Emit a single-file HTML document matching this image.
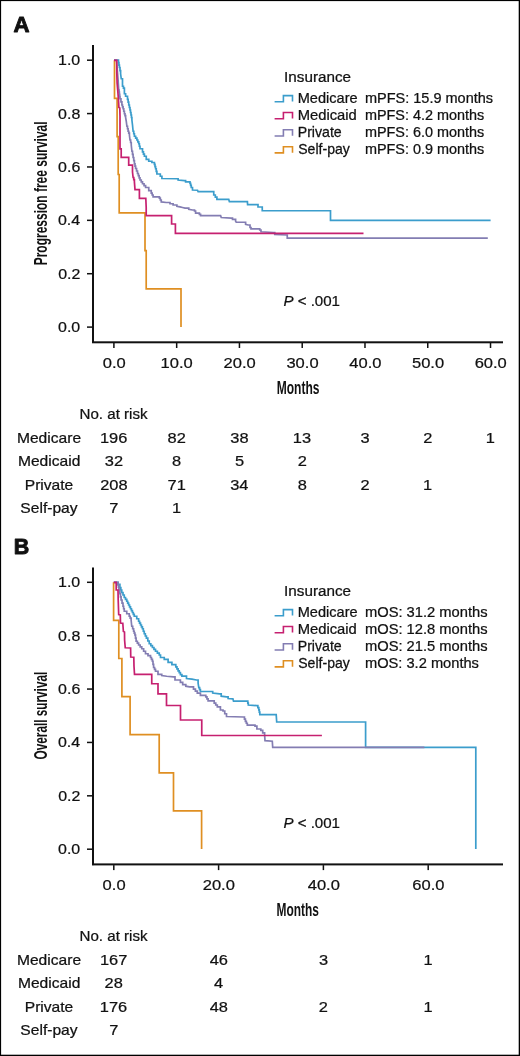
<!DOCTYPE html>
<html><head><meta charset="utf-8"><style>
html,body{margin:0;padding:0;background:#fff;}
body{width:520px;height:1056px;overflow:hidden;}
svg{display:block;font-family:"Liberation Sans",sans-serif;will-change:transform;}
</style></head><body>
<svg width="520" height="1056" viewBox="0 0 520 1056">
<rect x="0" y="0" width="520" height="1056" fill="#fff"/>
<text transform="translate(13.49,32.05) scale(1.0280,1)" font-size="21.6" font-weight="bold" font-style="normal" fill="#111"  stroke="#111" stroke-width="0.875" stroke-linejoin="round">A</text>
<rect x="92" y="45" width="2" height="298.00" fill="#111"/>
<rect x="92" y="341.30" width="411" height="2" fill="#111"/>
<rect x="87" y="326.35" width="5" height="1.5" fill="#111"/>
<text transform="translate(58.04,332.10) scale(1.0500,1)" font-size="15.2" font-weight="normal" font-style="normal" fill="#111" stroke="#111" stroke-width="0.238">0.0</text>
<rect x="87" y="272.97" width="5" height="1.5" fill="#111"/>
<text transform="translate(58.21,278.72) scale(1.0500,1)" font-size="15.2" font-weight="normal" font-style="normal" fill="#111" stroke="#111" stroke-width="0.238">0.2</text>
<rect x="87" y="219.59" width="5" height="1.5" fill="#111"/>
<text transform="translate(57.88,225.34) scale(1.0500,1)" font-size="15.2" font-weight="normal" font-style="normal" fill="#111" stroke="#111" stroke-width="0.238">0.4</text>
<rect x="87" y="166.21" width="5" height="1.5" fill="#111"/>
<text transform="translate(58.12,171.96) scale(1.0500,1)" font-size="15.2" font-weight="normal" font-style="normal" fill="#111" stroke="#111" stroke-width="0.238">0.6</text>
<rect x="87" y="112.83" width="5" height="1.5" fill="#111"/>
<text transform="translate(58.10,118.58) scale(1.0500,1)" font-size="15.2" font-weight="normal" font-style="normal" fill="#111" stroke="#111" stroke-width="0.238">0.8</text>
<rect x="87" y="59.45" width="5" height="1.5" fill="#111"/>
<text transform="translate(58.04,65.20) scale(1.0500,1)" font-size="15.2" font-weight="normal" font-style="normal" fill="#111" stroke="#111" stroke-width="0.238">1.0</text>
<rect x="113.15" y="343.00" width="1.5" height="5" fill="#111"/>
<text transform="translate(102.72,367.60) scale(1.0800,1)" font-size="15.3" font-weight="normal" font-style="normal" fill="#111" stroke="#111" stroke-width="0.231">0.0</text>
<rect x="175.92" y="343.00" width="1.5" height="5" fill="#111"/>
<text transform="translate(160.59,367.60) scale(1.0800,1)" font-size="15.3" font-weight="normal" font-style="normal" fill="#111" stroke="#111" stroke-width="0.231">10.0</text>
<rect x="238.69" y="343.00" width="1.5" height="5" fill="#111"/>
<text transform="translate(223.57,367.60) scale(1.0800,1)" font-size="15.3" font-weight="normal" font-style="normal" fill="#111" stroke="#111" stroke-width="0.231">20.0</text>
<rect x="301.46" y="343.00" width="1.5" height="5" fill="#111"/>
<text transform="translate(286.44,367.60) scale(1.0800,1)" font-size="15.3" font-weight="normal" font-style="normal" fill="#111" stroke="#111" stroke-width="0.231">30.0</text>
<rect x="364.23" y="343.00" width="1.5" height="5" fill="#111"/>
<text transform="translate(349.33,367.60) scale(1.0800,1)" font-size="15.3" font-weight="normal" font-style="normal" fill="#111" stroke="#111" stroke-width="0.231">40.0</text>
<rect x="427.00" y="343.00" width="1.5" height="5" fill="#111"/>
<text transform="translate(411.96,367.60) scale(1.0800,1)" font-size="15.3" font-weight="normal" font-style="normal" fill="#111" stroke="#111" stroke-width="0.231">50.0</text>
<rect x="489.77" y="343.00" width="1.5" height="5" fill="#111"/>
<text transform="translate(474.64,367.60) scale(1.0800,1)" font-size="15.3" font-weight="normal" font-style="normal" fill="#111" stroke="#111" stroke-width="0.231">60.0</text>
<polyline points="114.00,60.20 118.00,60.20 118.47,60.20 118.47,62.63 118.93,62.63 118.93,65.07 119.40,65.07 119.40,67.50 120.00,67.50 120.00,70.62 120.60,70.62 120.60,73.75 121.25,78.75 122.50,78.75 122.50,80.00 122.50,86.25 123.45,86.25 123.45,88.12 124.40,88.12 124.40,90.00 124.40,93.75 125.60,93.75 125.60,96.25 127.50,96.25 127.50,99.40 128.12,99.40 128.12,102.20 128.75,102.20 128.75,105.00 129.38,105.00 129.38,107.50 130.00,107.50 130.00,110.00 130.50,110.00 130.50,112.50 131.00,112.50 131.00,115.00 131.45,115.00 131.45,117.50 131.90,117.50 131.90,120.00 132.50,125.00 133.10,131.25 133.75,131.25 133.75,133.75 134.40,133.75 134.40,136.25 135.65,136.25 135.65,138.12 136.90,138.12 136.90,140.00 137.82,140.00 137.82,141.88 138.75,141.88 138.75,143.75 139.38,143.75 139.38,146.25 140.00,146.25 140.00,148.75 142.50,148.75 142.50,151.90 143.45,151.90 143.45,154.07 144.40,154.07 144.40,156.25 146.25,156.25 146.25,159.40 148.75,159.40 148.75,161.25 151.90,161.25 151.90,162.50 154.40,162.50 154.40,164.40 155.00,164.40 155.00,166.57 155.60,166.57 155.60,168.75 156.25,168.75 156.25,171.38 156.90,171.38 156.90,174.00 160.30,174.00 160.30,176.25 161.90,176.25 161.90,178.50 177.00,178.75 178.10,178.75 178.10,180.00 184.40,180.60 185.60,180.60 185.60,181.90 190.00,181.90 190.00,183.30 190.62,183.30 190.62,185.40 191.25,185.40 191.25,187.50 192.50,187.50 192.50,190.00 197.50,190.25 198.10,191.60 211.90,191.60 213.75,191.60 213.75,195.00 215.32,195.00 215.32,197.20 216.90,197.20 216.90,199.40 228.75,199.40 229.40,201.70 247.40,201.70 247.60,204.60 258.00,204.60 258.00,207.00 262.25,207.00 262.25,210.75 330.50,210.75 330.50,220.30 490.60,220.30" fill="none" stroke="#3b9dcc" stroke-width="1.7" stroke-linejoin="miter" stroke-linecap="butt"/>
<polyline points="114.00,60.20 116.50,60.20 117.30,70.00 118.10,80.00 118.75,90.00 119.06,90.00 119.06,92.19 119.38,92.19 119.38,94.38 119.69,94.38 119.69,96.56 120.00,96.56 120.00,98.75 120.95,98.75 120.95,101.88 121.90,101.88 121.90,105.00 122.50,105.00 122.50,106.88 123.10,106.88 123.10,108.75 123.75,108.75 123.75,111.25 124.40,111.25 124.40,113.75 125.00,113.75 125.00,115.62 125.60,115.62 125.60,117.50 126.25,121.25 126.90,126.25 127.50,126.25 127.50,128.75 128.10,128.75 128.10,131.25 128.75,131.25 128.75,133.12 129.40,133.12 129.40,135.00 130.00,140.00 130.62,140.00 130.62,142.50 131.25,142.50 131.25,145.00 131.90,151.25 132.50,151.25 132.50,154.38 133.10,154.38 133.10,157.50 133.75,157.50 133.75,160.62 134.40,160.62 134.40,163.75 135.00,163.75 135.00,166.12 135.60,166.12 135.60,168.50 136.55,168.50 136.55,171.00 137.50,171.00 137.50,173.50 138.33,173.50 138.33,175.67 139.17,175.67 139.17,177.83 140.00,177.83 140.00,180.00 141.25,180.00 141.25,181.88 142.50,181.88 142.50,183.75 144.05,183.75 144.05,185.62 145.60,185.62 145.60,187.50 148.75,187.50 148.75,190.60 151.25,190.60 151.25,193.10 152.18,193.10 152.18,195.00 153.10,195.00 153.10,196.90 159.40,196.90 159.40,198.10 160.32,198.10 160.32,200.00 161.25,200.00 161.25,201.90 166.25,202.50 170.00,202.50 170.00,203.75 173.10,203.75 173.10,205.00 176.90,205.00 176.90,206.25 180.00,206.90 182.50,207.50 185.00,208.10 188.75,208.10 188.75,209.40 192.50,210.00 194.50,210.00 194.50,211.00 195.60,211.00 195.60,213.10 199.40,213.10 199.40,214.40 200.60,214.40 200.60,215.60 220.60,215.60 221.25,217.50 231.25,218.10 232.50,218.10 232.50,219.40 235.60,219.40 235.60,221.25 236.25,222.25 244.40,222.25 245.60,222.25 245.60,224.40 248.10,225.00 250.00,225.00 250.00,227.50 251.00,227.50 251.00,228.90 259.75,228.90 259.75,230.00 261.00,230.00 261.00,231.75 273.50,232.50 274.75,232.50 274.75,234.50 287.25,235.00 287.25,238.20 487.80,238.20" fill="none" stroke="#837db2" stroke-width="1.7" stroke-linejoin="miter" stroke-linecap="butt"/>
<polyline points="114.50,60.20 114.50,98.30 117.10,98.30 117.10,136.70 118.20,136.70 118.20,174.50 119.20,174.50 119.20,212.80 145.00,212.80 145.00,250.60 146.20,250.60 146.20,288.90 181.00,288.90 181.00,327.00" fill="none" stroke="#df8f22" stroke-width="1.7" stroke-linejoin="miter" stroke-linecap="butt"/>
<polyline points="114.00,60.40 116.70,60.40 116.80,73.00 117.10,83.00 117.70,90.00 118.40,98.70 118.90,107.50 119.80,108.00 120.00,116.00 120.00,148.80 121.20,148.80 121.20,157.40 128.70,157.40 128.70,165.10 132.50,165.10 132.50,172.00 133.10,177.50 133.75,177.50 133.75,179.70 134.40,179.70 134.40,181.90 135.00,189.60 139.40,189.60 139.40,198.30 145.80,198.30 146.20,207.50 146.20,215.60 171.60,215.60 171.60,224.00 175.40,224.00 175.40,233.30 363.50,233.30" fill="none" stroke="#c62070" stroke-width="1.7" stroke-linejoin="miter" stroke-linecap="butt"/>
<text transform="translate(13.81,554.35) scale(0.9942,1)" font-size="21.6" font-weight="bold" font-style="normal" fill="#111"  stroke="#111" stroke-width="0.905" stroke-linejoin="round">B</text>
<rect x="92" y="567.5" width="2" height="297.60" fill="#111"/>
<rect x="92" y="863.40" width="411" height="2" fill="#111"/>
<rect x="87" y="848.45" width="5" height="1.5" fill="#111"/>
<text transform="translate(58.04,854.20) scale(1.0500,1)" font-size="15.2" font-weight="normal" font-style="normal" fill="#111" stroke="#111" stroke-width="0.238">0.0</text>
<rect x="87" y="795.07" width="5" height="1.5" fill="#111"/>
<text transform="translate(58.21,800.82) scale(1.0500,1)" font-size="15.2" font-weight="normal" font-style="normal" fill="#111" stroke="#111" stroke-width="0.238">0.2</text>
<rect x="87" y="741.69" width="5" height="1.5" fill="#111"/>
<text transform="translate(57.88,747.44) scale(1.0500,1)" font-size="15.2" font-weight="normal" font-style="normal" fill="#111" stroke="#111" stroke-width="0.238">0.4</text>
<rect x="87" y="688.31" width="5" height="1.5" fill="#111"/>
<text transform="translate(58.12,694.06) scale(1.0500,1)" font-size="15.2" font-weight="normal" font-style="normal" fill="#111" stroke="#111" stroke-width="0.238">0.6</text>
<rect x="87" y="634.93" width="5" height="1.5" fill="#111"/>
<text transform="translate(58.10,640.68) scale(1.0500,1)" font-size="15.2" font-weight="normal" font-style="normal" fill="#111" stroke="#111" stroke-width="0.238">0.8</text>
<rect x="87" y="581.55" width="5" height="1.5" fill="#111"/>
<text transform="translate(58.04,587.30) scale(1.0500,1)" font-size="15.2" font-weight="normal" font-style="normal" fill="#111" stroke="#111" stroke-width="0.238">1.0</text>
<rect x="113.05" y="865.10" width="1.5" height="5" fill="#111"/>
<text transform="translate(102.62,889.70) scale(1.0800,1)" font-size="15.3" font-weight="normal" font-style="normal" fill="#111" stroke="#111" stroke-width="0.231">0.0</text>
<rect x="217.85" y="865.10" width="1.5" height="5" fill="#111"/>
<text transform="translate(202.73,889.70) scale(1.0800,1)" font-size="15.3" font-weight="normal" font-style="normal" fill="#111" stroke="#111" stroke-width="0.231">20.0</text>
<rect x="322.65" y="865.10" width="1.5" height="5" fill="#111"/>
<text transform="translate(307.75,889.70) scale(1.0800,1)" font-size="15.3" font-weight="normal" font-style="normal" fill="#111" stroke="#111" stroke-width="0.231">40.0</text>
<rect x="427.45" y="865.10" width="1.5" height="5" fill="#111"/>
<text transform="translate(412.32,889.70) scale(1.0800,1)" font-size="15.3" font-weight="normal" font-style="normal" fill="#111" stroke="#111" stroke-width="0.231">60.0</text>
<polyline points="113.80,582.30 116.50,582.30 118.00,582.30 118.00,584.40 119.90,584.40 119.90,587.50 120.83,587.50 120.83,590.00 121.75,590.00 121.75,592.50 123.00,592.50 123.00,595.00 124.25,595.00 124.25,597.50 125.50,597.50 125.50,599.38 126.75,599.38 126.75,601.25 127.67,601.25 127.67,603.12 128.60,603.12 128.60,605.00 129.55,605.00 129.55,606.88 130.50,606.88 130.50,608.75 131.45,608.75 131.45,610.62 132.40,610.62 132.40,612.50 133.32,612.50 133.32,614.38 134.25,614.38 134.25,616.25 136.75,616.25 136.75,618.75 138.60,618.75 138.60,621.25 139.55,621.25 139.55,623.12 140.50,623.12 140.50,625.00 141.45,625.00 141.45,626.88 142.40,626.88 142.40,628.75 143.32,628.75 143.32,631.25 144.25,631.25 144.25,633.75 145.32,633.75 145.32,635.98 146.40,635.98 146.40,638.20 147.82,638.20 147.82,640.98 149.25,640.98 149.25,643.75 150.82,643.75 150.82,645.62 152.40,645.62 152.40,647.50 153.95,647.50 153.95,649.38 155.50,649.38 155.50,651.25 157.38,651.25 157.38,653.12 159.25,653.12 159.25,655.00 160.50,655.00 160.50,657.50 164.25,657.50 164.25,659.40 168.10,659.40 168.10,662.30 171.90,662.30 171.90,664.60 175.80,664.60 175.80,666.90 176.95,666.90 176.95,668.85 178.10,668.85 178.10,670.80 179.25,670.80 179.25,672.70 180.40,672.70 180.40,674.60 181.90,674.60 181.90,676.20 186.50,676.20 186.50,678.50 191.90,679.20 196.50,680.00 198.10,680.00 198.10,683.10 198.80,687.70 199.60,687.70 199.60,689.60 200.40,689.60 200.40,691.50 211.20,691.50 212.70,691.50 212.70,693.10 219.60,693.80 221.20,693.80 221.20,696.20 226.50,696.90 228.10,696.90 228.10,698.50 232.90,698.90 233.50,701.20 247.30,701.20 247.80,701.20 247.80,703.10 248.30,703.10 248.30,705.00 256.90,705.60 257.85,705.60 257.85,707.70 258.80,707.70 258.80,709.80 259.30,709.80 259.30,712.20 259.80,712.20 259.80,714.60 276.20,714.60 276.70,722.00 365.60,722.00 365.60,747.30 475.80,747.30 475.80,849.00" fill="none" stroke="#3b9dcc" stroke-width="1.7" stroke-linejoin="miter" stroke-linecap="butt"/>
<polyline points="113.80,582.30 117.00,582.30 118.00,582.30 118.00,585.00 118.47,585.00 118.47,587.19 118.95,587.19 118.95,589.38 119.43,589.38 119.43,591.56 119.90,591.56 119.90,593.75 120.50,593.75 120.50,596.88 121.10,596.88 121.10,600.00 122.05,600.00 122.05,603.12 123.00,603.12 123.00,606.25 123.62,606.25 123.62,608.75 124.25,608.75 124.25,611.25 126.75,611.25 126.75,613.75 129.25,613.75 129.25,616.25 130.18,616.25 130.18,618.12 131.10,618.12 131.10,620.00 131.75,626.25 132.68,626.25 132.68,628.75 133.60,628.75 133.60,631.25 134.25,631.25 134.25,633.12 134.90,633.12 134.90,635.00 135.50,635.00 135.50,638.12 136.10,638.12 136.10,641.25 137.35,641.25 137.35,643.12 138.60,643.12 138.60,645.00 140.18,645.00 140.18,646.88 141.75,646.88 141.75,648.75 143.62,648.75 143.62,651.25 145.50,651.25 145.50,653.75 148.00,653.75 148.00,655.62 150.50,655.62 150.50,657.50 151.45,657.50 151.45,659.38 152.40,659.38 152.40,661.25 153.00,661.25 153.00,664.38 153.60,664.38 153.60,667.50 154.55,667.50 154.55,669.38 155.50,669.38 155.50,671.25 158.00,671.25 158.00,674.40 161.75,674.40 161.75,675.60 166.75,676.25 173.50,676.90 175.00,676.90 175.00,680.00 180.40,680.00 180.40,682.30 182.70,682.30 182.70,684.60 185.80,684.60 185.80,686.20 189.60,686.90 193.50,686.90 193.50,689.20 195.40,689.20 195.40,691.15 197.30,691.15 197.30,693.10 200.40,693.10 200.40,695.40 205.80,695.40 205.80,696.90 206.95,696.90 206.95,698.85 208.10,698.85 208.10,700.80 214.20,700.80 214.20,703.10 215.75,703.10 215.75,705.00 217.30,705.00 217.30,706.90 220.40,706.90 220.40,710.00 223.00,710.00 223.00,711.00 224.75,711.00 224.75,713.75 226.50,713.75 226.50,716.50 243.50,717.00 244.45,717.00 244.45,719.15 245.40,719.15 245.40,721.30 246.35,721.30 246.35,723.25 247.30,723.25 247.30,725.20 255.00,725.20 255.00,726.20 256.90,726.20 256.90,729.00 260.80,729.00 260.80,730.40 262.70,730.40 262.70,732.90 264.60,732.90 264.60,734.80 265.00,740.60 272.30,741.20 272.70,747.40 424.40,747.40" fill="none" stroke="#837db2" stroke-width="1.7" stroke-linejoin="miter" stroke-linecap="butt"/>
<polyline points="113.60,582.30 113.60,620.40 118.80,620.40 118.80,658.50 121.90,658.50 121.90,696.60 130.10,696.60 130.10,734.70 159.20,734.70 159.20,772.80 173.50,772.80 173.50,810.90 201.60,810.90 201.60,849.00" fill="none" stroke="#df8f22" stroke-width="1.7" stroke-linejoin="miter" stroke-linecap="butt"/>
<polyline points="113.80,582.30 116.20,582.30 116.20,590.00 118.00,590.00 118.20,600.00 118.70,614.50 120.30,615.00 120.50,623.00 122.80,623.30 123.40,631.50 124.50,632.00 124.60,640.00 125.25,647.80 130.60,648.00 130.75,657.00 133.80,657.20 134.00,666.25 134.50,674.40 151.75,674.40 151.75,683.75 158.00,683.75 158.00,693.80 166.50,693.80 166.50,705.50 180.50,705.50 180.50,720.00 201.75,720.00 201.75,735.50 321.90,735.50" fill="none" stroke="#c62070" stroke-width="1.7" stroke-linejoin="miter" stroke-linecap="butt"/>
<text transform="translate(47.00,265.30) rotate(-90) scale(0.6278,1)" font-size="19.1" font-weight="bold" fill="#111">Progression free survival</text>
<text transform="translate(47.20,759.38) rotate(-90) scale(0.6158,1)" font-size="19.1" font-weight="bold" fill="#111">Overall survival</text>
<text transform="translate(276.69,393.80) scale(0.6337,1)" font-size="19" font-weight="bold" font-style="normal" fill="#111" >Months</text>
<text transform="translate(276.60,915.80) scale(0.6275,1)" font-size="19" font-weight="bold" font-style="normal" fill="#111" >Months</text>
<text transform="translate(283.43,305.80) scale(1.04,1)" font-size="14.5" fill="#111" stroke="#111" stroke-width="0.240"><tspan font-style="italic">P</tspan> &lt; .001</text>
<text transform="translate(283.43,828.00) scale(1.04,1)" font-size="14.5" fill="#111" stroke="#111" stroke-width="0.240"><tspan font-style="italic">P</tspan> &lt; .001</text>
<text transform="translate(284.09,82.30) scale(1.0535,1)" font-size="14.5" font-weight="normal" font-style="normal" fill="#111" stroke="#111" stroke-width="0.237">Insurance</text>
<polyline points="274.60,101.80 283.40,101.80 283.40,95.60 292.50,95.60 292.50,101.60" fill="none" stroke="#3b9dcc" stroke-width="1.6" stroke-linejoin="miter" stroke-linecap="butt"/>
<text transform="translate(297.71,102.60) scale(1.0262,1)" font-size="14.2" font-weight="normal" font-style="normal" fill="#111" stroke="#111" stroke-width="0.244">Medicare</text>
<text transform="translate(364.94,102.60) scale(1.0215,1)" font-size="14.2" font-weight="normal" font-style="normal" fill="#111" stroke="#111" stroke-width="0.245">mPFS: 15.9 months</text>
<polyline points="274.60,118.70 283.40,118.70 283.40,112.50 292.50,112.50 292.50,118.50" fill="none" stroke="#c62070" stroke-width="1.6" stroke-linejoin="miter" stroke-linecap="butt"/>
<text transform="translate(297.69,119.50) scale(1.0410,1)" font-size="14.2" font-weight="normal" font-style="normal" fill="#111" stroke="#111" stroke-width="0.240">Medicaid</text>
<text transform="translate(364.95,119.50) scale(1.0151,1)" font-size="14.2" font-weight="normal" font-style="normal" fill="#111" stroke="#111" stroke-width="0.246">mPFS: 4.2 months</text>
<polyline points="274.60,136.00 283.40,136.00 283.40,129.80 292.50,129.80 292.50,135.80" fill="none" stroke="#837db2" stroke-width="1.6" stroke-linejoin="miter" stroke-linecap="butt"/>
<text transform="translate(297.74,136.80) scale(0.9953,1)" font-size="14.2" font-weight="normal" font-style="normal" fill="#111" stroke="#111" stroke-width="0.251">Private</text>
<text transform="translate(364.95,136.80) scale(1.0151,1)" font-size="14.2" font-weight="normal" font-style="normal" fill="#111" stroke="#111" stroke-width="0.246">mPFS: 6.0 months</text>
<polyline points="274.60,152.90 283.40,152.90 283.40,146.70 292.50,146.70 292.50,152.70" fill="none" stroke="#df8f22" stroke-width="1.6" stroke-linejoin="miter" stroke-linecap="butt"/>
<text transform="translate(298.25,153.70) scale(0.9902,1)" font-size="14.2" font-weight="normal" font-style="normal" fill="#111" stroke="#111" stroke-width="0.252">Self-pay</text>
<text transform="translate(364.95,153.70) scale(1.0151,1)" font-size="14.2" font-weight="normal" font-style="normal" fill="#111" stroke="#111" stroke-width="0.246">mPFS: 0.9 months</text>
<text transform="translate(284.09,596.30) scale(1.0535,1)" font-size="14.5" font-weight="normal" font-style="normal" fill="#111" stroke="#111" stroke-width="0.237">Insurance</text>
<polyline points="274.60,615.80 283.40,615.80 283.40,609.60 292.50,609.60 292.50,615.60" fill="none" stroke="#3b9dcc" stroke-width="1.6" stroke-linejoin="miter" stroke-linecap="butt"/>
<text transform="translate(297.71,616.60) scale(1.0262,1)" font-size="14.2" font-weight="normal" font-style="normal" fill="#111" stroke="#111" stroke-width="0.244">Medicare</text>
<text transform="translate(364.93,616.60) scale(1.0365,1)" font-size="14.2" font-weight="normal" font-style="normal" fill="#111" stroke="#111" stroke-width="0.241">mOS: 31.2 months</text>
<polyline points="274.60,632.70 283.40,632.70 283.40,626.50 292.50,626.50 292.50,632.50" fill="none" stroke="#c62070" stroke-width="1.6" stroke-linejoin="miter" stroke-linecap="butt"/>
<text transform="translate(297.69,633.50) scale(1.0410,1)" font-size="14.2" font-weight="normal" font-style="normal" fill="#111" stroke="#111" stroke-width="0.240">Medicaid</text>
<text transform="translate(364.93,633.50) scale(1.0365,1)" font-size="14.2" font-weight="normal" font-style="normal" fill="#111" stroke="#111" stroke-width="0.241">mOS: 12.8 months</text>
<polyline points="274.60,650.00 283.40,650.00 283.40,643.80 292.50,643.80 292.50,649.80" fill="none" stroke="#837db2" stroke-width="1.6" stroke-linejoin="miter" stroke-linecap="butt"/>
<text transform="translate(297.74,650.80) scale(0.9953,1)" font-size="14.2" font-weight="normal" font-style="normal" fill="#111" stroke="#111" stroke-width="0.251">Private</text>
<text transform="translate(364.93,650.80) scale(1.0365,1)" font-size="14.2" font-weight="normal" font-style="normal" fill="#111" stroke="#111" stroke-width="0.241">mOS: 21.5 months</text>
<polyline points="274.60,666.90 283.40,666.90 283.40,660.70 292.50,660.70 292.50,666.70" fill="none" stroke="#df8f22" stroke-width="1.6" stroke-linejoin="miter" stroke-linecap="butt"/>
<text transform="translate(298.25,667.70) scale(0.9902,1)" font-size="14.2" font-weight="normal" font-style="normal" fill="#111" stroke="#111" stroke-width="0.252">Self-pay</text>
<text transform="translate(364.93,667.70) scale(1.0326,1)" font-size="14.2" font-weight="normal" font-style="normal" fill="#111" stroke="#111" stroke-width="0.242">mOS: 3.2 months</text>
<text transform="translate(79.56,418.80) scale(1.0075,1)" font-size="15" font-weight="normal" font-style="normal" fill="#111" stroke="#111" stroke-width="0.248">No. at risk</text>
<text transform="translate(16.92,442.50) scale(1.0400,1)" font-size="15" font-weight="normal" font-style="normal" fill="#111" stroke="#111" stroke-width="0.240">Medicare</text>
<text transform="translate(99.95,442.50) scale(1.0800,1)" font-size="15.2" font-weight="normal" font-style="normal" fill="#111" stroke="#111" stroke-width="0.231">196</text>
<text transform="translate(167.60,442.50) scale(1.0800,1)" font-size="15.2" font-weight="normal" font-style="normal" fill="#111" stroke="#111" stroke-width="0.231">82</text>
<text transform="translate(230.35,442.50) scale(1.0800,1)" font-size="15.2" font-weight="normal" font-style="normal" fill="#111" stroke="#111" stroke-width="0.231">38</text>
<text transform="translate(292.82,442.50) scale(1.0800,1)" font-size="15.2" font-weight="normal" font-style="normal" fill="#111" stroke="#111" stroke-width="0.231">13</text>
<text transform="translate(360.47,442.50) scale(1.0800,1)" font-size="15.2" font-weight="normal" font-style="normal" fill="#111" stroke="#111" stroke-width="0.231">3</text>
<text transform="translate(423.19,442.50) scale(1.0800,1)" font-size="15.2" font-weight="normal" font-style="normal" fill="#111" stroke="#111" stroke-width="0.231">2</text>
<text transform="translate(485.73,442.50) scale(1.0800,1)" font-size="15.2" font-weight="normal" font-style="normal" fill="#111" stroke="#111" stroke-width="0.231">1</text>
<text transform="translate(17.94,465.90) scale(1.0400,1)" font-size="15" font-weight="normal" font-style="normal" fill="#111" stroke="#111" stroke-width="0.240">Medicaid</text>
<text transform="translate(104.87,465.90) scale(1.0800,1)" font-size="15.2" font-weight="normal" font-style="normal" fill="#111" stroke="#111" stroke-width="0.231">32</text>
<text transform="translate(172.11,465.90) scale(1.0800,1)" font-size="15.2" font-weight="normal" font-style="normal" fill="#111" stroke="#111" stroke-width="0.231">8</text>
<text transform="translate(234.89,465.90) scale(1.0800,1)" font-size="15.2" font-weight="normal" font-style="normal" fill="#111" stroke="#111" stroke-width="0.231">5</text>
<text transform="translate(297.65,465.90) scale(1.0800,1)" font-size="15.2" font-weight="normal" font-style="normal" fill="#111" stroke="#111" stroke-width="0.231">2</text>
<text transform="translate(24.73,490.00) scale(1.0400,1)" font-size="15" font-weight="normal" font-style="normal" fill="#111" stroke="#111" stroke-width="0.240">Private</text>
<text transform="translate(100.15,490.00) scale(1.0800,1)" font-size="15.2" font-weight="normal" font-style="normal" fill="#111" stroke="#111" stroke-width="0.231">208</text>
<text transform="translate(167.53,490.00) scale(1.0800,1)" font-size="15.2" font-weight="normal" font-style="normal" fill="#111" stroke="#111" stroke-width="0.231">71</text>
<text transform="translate(230.24,490.00) scale(1.0800,1)" font-size="15.2" font-weight="normal" font-style="normal" fill="#111" stroke="#111" stroke-width="0.231">34</text>
<text transform="translate(297.65,490.00) scale(1.0800,1)" font-size="15.2" font-weight="normal" font-style="normal" fill="#111" stroke="#111" stroke-width="0.231">8</text>
<text transform="translate(360.42,490.00) scale(1.0800,1)" font-size="15.2" font-weight="normal" font-style="normal" fill="#111" stroke="#111" stroke-width="0.231">2</text>
<text transform="translate(422.96,490.00) scale(1.0800,1)" font-size="15.2" font-weight="normal" font-style="normal" fill="#111" stroke="#111" stroke-width="0.231">1</text>
<text transform="translate(20.35,513.10) scale(1.0400,1)" font-size="15" font-weight="normal" font-style="normal" fill="#111" stroke="#111" stroke-width="0.240">Self-pay</text>
<text transform="translate(109.33,513.10) scale(1.0800,1)" font-size="15.2" font-weight="normal" font-style="normal" fill="#111" stroke="#111" stroke-width="0.231">7</text>
<text transform="translate(171.88,513.10) scale(1.0800,1)" font-size="15.2" font-weight="normal" font-style="normal" fill="#111" stroke="#111" stroke-width="0.231">1</text>
<text transform="translate(79.56,940.80) scale(1.0075,1)" font-size="15" font-weight="normal" font-style="normal" fill="#111" stroke="#111" stroke-width="0.248">No. at risk</text>
<text transform="translate(16.92,964.50) scale(1.0400,1)" font-size="15" font-weight="normal" font-style="normal" fill="#111" stroke="#111" stroke-width="0.240">Medicare</text>
<text transform="translate(99.90,964.50) scale(1.0800,1)" font-size="15.2" font-weight="normal" font-style="normal" fill="#111" stroke="#111" stroke-width="0.231">167</text>
<text transform="translate(209.65,964.50) scale(1.0800,1)" font-size="15.2" font-weight="normal" font-style="normal" fill="#111" stroke="#111" stroke-width="0.231">46</text>
<text transform="translate(318.89,964.50) scale(1.0800,1)" font-size="15.2" font-weight="normal" font-style="normal" fill="#111" stroke="#111" stroke-width="0.231">3</text>
<text transform="translate(423.41,964.50) scale(1.0800,1)" font-size="15.2" font-weight="normal" font-style="normal" fill="#111" stroke="#111" stroke-width="0.231">1</text>
<text transform="translate(17.94,987.90) scale(1.0400,1)" font-size="15" font-weight="normal" font-style="normal" fill="#111" stroke="#111" stroke-width="0.240">Medicaid</text>
<text transform="translate(104.62,987.90) scale(1.0800,1)" font-size="15.2" font-weight="normal" font-style="normal" fill="#111" stroke="#111" stroke-width="0.231">28</text>
<text transform="translate(214.09,987.90) scale(1.0800,1)" font-size="15.2" font-weight="normal" font-style="normal" fill="#111" stroke="#111" stroke-width="0.231">4</text>
<text transform="translate(24.73,1012.00) scale(1.0400,1)" font-size="15" font-weight="normal" font-style="normal" fill="#111" stroke="#111" stroke-width="0.240">Private</text>
<text transform="translate(99.85,1012.00) scale(1.0800,1)" font-size="15.2" font-weight="normal" font-style="normal" fill="#111" stroke="#111" stroke-width="0.231">176</text>
<text transform="translate(209.64,1012.00) scale(1.0800,1)" font-size="15.2" font-weight="normal" font-style="normal" fill="#111" stroke="#111" stroke-width="0.231">48</text>
<text transform="translate(318.84,1012.00) scale(1.0800,1)" font-size="15.2" font-weight="normal" font-style="normal" fill="#111" stroke="#111" stroke-width="0.231">2</text>
<text transform="translate(423.41,1012.00) scale(1.0800,1)" font-size="15.2" font-weight="normal" font-style="normal" fill="#111" stroke="#111" stroke-width="0.231">1</text>
<text transform="translate(20.35,1035.10) scale(1.0400,1)" font-size="15" font-weight="normal" font-style="normal" fill="#111" stroke="#111" stroke-width="0.240">Self-pay</text>
<text transform="translate(109.23,1035.10) scale(1.0800,1)" font-size="15.2" font-weight="normal" font-style="normal" fill="#111" stroke="#111" stroke-width="0.231">7</text>
<rect x="0" y="0" width="520" height="1.1" fill="#000"/><rect x="0" y="0" width="1.1" height="1056" fill="#000"/><rect x="518.7" y="0" width="1.3" height="1056" fill="#000"/><rect x="0" y="1054.7" width="520" height="1.3" fill="#000"/>
</svg>
</body></html>
